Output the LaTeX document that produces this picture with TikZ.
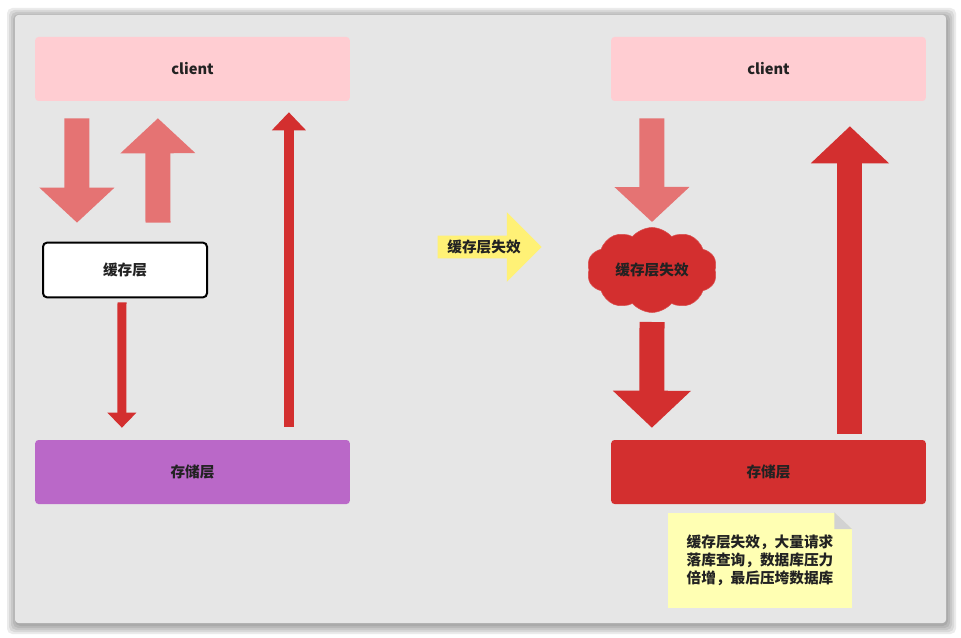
\documentclass[tikz,border=0pt]{standalone}
\usepackage{fontspec}
\usepackage{xcolor}
\usepackage{tikz}
\usetikzlibrary{positioning, calc, shapes.symbols, shapes.arrows, arrows.meta}
\newfontfamily\cjk{Noto Sans CJK SC}
\definecolor{framegray}{HTML}{E6E6E6}
\definecolor{clientpink}{HTML}{FFCDD2}
\definecolor{storepurple}{HTML}{BA68C8}
\definecolor{darkred}{HTML}{D32F2F}
\definecolor{lightred}{HTML}{E57373}
\definecolor{arrowyellow}{HTML}{FFF176}
\definecolor{noteyellow}{HTML}{FFFFB3}
\definecolor{foldgray}{HTML}{D2D2D2}
\definecolor{inkblack}{HTML}{222222}

\tikzset{
	every node/.style={font=\cjk\bfseries\fontsize{11}{13.5}\selectfont, text=inkblack},
	layer/.style={rounded corners=2.5pt, minimum width=236pt, minimum height=48pt},
	cachebox/.style={draw=black, fill=white, line width=1.5pt, rounded corners=3pt, minimum width=123pt, minimum height=41pt},
	fatarrow/.style={line width=18.75pt, -{Triangle[length=26.25pt, width=54.75pt]}},
	bigarrow/.style={darkred, line width=18.75pt, -{Triangle[length=27.75pt, width=57pt]}},
	thinarrow/.style={darkred, line width=6.75pt, -{Triangle[length=11.25pt, width=21pt]}},
	tallarrow/.style={darkred, line width=7.5pt, -{Triangle[length=13.5pt, width=24.75pt]}},
	failarrow/.style={single arrow, fill=arrowyellow, minimum height=78pt, single arrow head extend=17.6pt, inner xsep=2pt, inner ysep=3pt},
	failcloud/.style={cloud, cloud puffs=10, cloud puff arc=100, aspect=1.5, fill=darkred, draw=darkred!85!white, minimum width=97.5pt, minimum height=63.75pt, inner sep=0pt},
	note/.style={fill=noteyellow, minimum width=138pt, minimum height=71.25pt, align=left}
}

\begin{document}
\begin{tikzpicture}[x=0.75pt, y=-0.75pt]
	\useasboundingbox (0,0) rectangle (961,638);
	% frame with soft shadow
	\foreach \s in {9,7,5,3,1}
		\fill[black, opacity=0.08, rounded corners=4pt] (15-\s+1,15-\s+2) rectangle (946+\s+1,623+\s+2);
	\fill[framegray, rounded corners=2.5pt] (15,15) rectangle (946,623);

	% left: normal case
	\node[layer, fill=clientpink] (clientL) at (192.5,69) {client};
	\node[cachebox] (cache) at (125,270) {缓存层};
	\node[layer, fill=storepurple] (storeL) at (192.5,472) {存储层};
	\draw[fatarrow, lightred] ($(clientL.south west)+(42,17)$) -- ($(cache.north west)+(35,-19)$);
	\draw[fatarrow, lightred] ($(cache.north west)+(116,-19)$) -- ($(clientL.south west)+(123,17)$);
	\draw[thinarrow] ($(cache.south west)+(80,4)$) -- ($(storeL.north west)+(87,-12)$);
	\draw[tallarrow] ($(storeL.north west)+(254,-13)$) -- ($(clientL.south west)+(254,11)$);

	% middle
	\node[failarrow] (failArrow) at (484,247) {缓存层失效};

	% right: cache failure
	\node[layer, fill=clientpink] (clientR) at (768.5,69) {client};
	\node[failcloud] (fail) at (652,270) {缓存层失效};
	\node[layer, fill=darkred] (storeR) at (768.5,472) {存储层};
	\draw[fatarrow, lightred] ($(clientR.south west)+(41,17)$) -- ($(fail.center)+(0,-48)$);
	\draw[bigarrow] ($(fail.center)+(0,52)$) -- ($(storeR.north west)+(41,-12)$);
	\draw[bigarrow] ($(storeR.north west)+(239,-6)$) -- ($(clientR.south west)+(239,25)$);

	% note with folded corner
	\node[note] (remark) at (760,560) {缓存层失效，大量请求\\落库查询，数据库压力\\倍增，最后压垮数据库};
	\fill[framegray] ($(remark.north east)+(-18,0)$) -- (remark.north east) -- ($(remark.north east)+(0,17)$) -- cycle;
	\fill[foldgray] ($(remark.north east)+(-18,0)$) -- ($(remark.north east)+(0,17)$) -- ($(remark.north east)+(-18,17)$) -- cycle;
\end{tikzpicture}
\end{document}
